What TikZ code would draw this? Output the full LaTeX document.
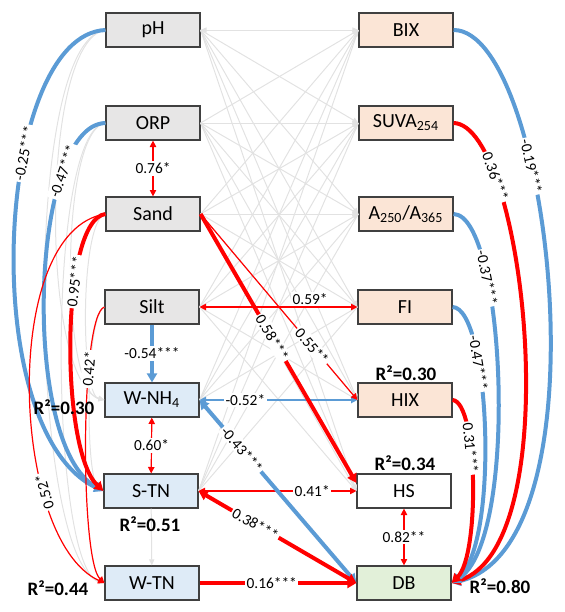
\documentclass[tikz,border=0pt]{standalone}
\usepackage{fontspec}
\setmainfont{Carlito}
\usetikzlibrary{arrows.meta}

\definecolor{soilfill}{HTML}{E7E6E6}
\definecolor{domfill}{HTML}{FBE5D6}
\definecolor{nfill}{HTML}{DEEBF7}
\definecolor{dbfill}{HTML}{E2F0D9}
\definecolor{boxline}{HTML}{404040}
\definecolor{negblue}{HTML}{5B9BD5}
\definecolor{posred}{HTML}{FF0000}
\definecolor{nsgray}{HTML}{E2E2E2}

\begin{document}
\begin{tikzpicture}[x=0.5pt, y=-0.5pt,
  box/.style={draw=boxline, line width=0.6pt, minimum width=47pt, minimum height=17pt,
              inner sep=0pt, font=\fontsize{10}{12}\selectfont},
  soil/.style={box, fill=soilfill},
  dom/.style={box, fill=domfill},
  nitro/.style={box, fill=nfill},
  ns/.style={nsgray, line width=0.5pt, >={Triangle[length=3pt,width=2.6pt]}},
  negthick/.style={negblue, line width=2pt, >={Triangle[length=4.5pt,width=5pt]}},
  posthick/.style={posred, line width=2pt, >={Triangle[length=4.5pt,width=5pt]}},
  negthin/.style={negblue, line width=0.7pt, >={Triangle[length=3.2pt,width=3.2pt]}},
  posthin/.style={posred, line width=0.6pt, >={Triangle[length=3.2pt,width=3.2pt]}},
  coef/.style={fill=white, inner sep=0.8pt, text=black, font=\fontsize{7.7}{9}\selectfont},
  rsq/.style={font=\fontsize{9.5}{11}\bfseries\selectfont, inner sep=0pt}
]
  \useasboundingbox (0,0) rectangle (564,612);

  % soil properties and nitrogen (left)
  \node[soil] (ph) at (153,30) {pH};
  \node[soil] (orp) at (153,123) {ORP};
  \node[soil] (sand) at (153,214) {Sand};
  \node[soil] (silt) at (152,307) {Silt};
  \node[nitro] (wnh) at (152,400) {W-NH\textsubscript{4}};
  \node[nitro] (stn) at (151,491) {S-TN};
  \node[nitro] (wtn) at (152,583) {W-TN};

  % DOM indices, HS and DB (right)
  \node[dom] (bix) at (406,30) {BIX};
  \node[dom] (suva) at (406,123) {SUVA\textsubscript{254}};
  \node[dom] (aa) at (406,214) {A\textsubscript{250}/A\textsubscript{365}};
  \node[dom] (fi) at (405,307) {FI};
  \node[dom] (hix) at (405,400) {HIX};
  \node[box, fill=white] (hs) at (404,491) {HS};
  \node[box, fill=dbfill] (db) at (404,583) {DB};

  % non significant paths
  \foreach \a in {ph,orp,sand,silt}
    \foreach \b in {bix,suva,aa,fi,hix,hs}
      \draw[ns,->] (\a.east) -- (\b.west);
  \foreach \a in {bix,suva,aa,fi}
    \foreach \b in {wnh,stn}
      \draw[ns] (\a.west) -- (\b.east);
  \draw[ns,<-] (ph.east) -- (bix.west);
  \draw[ns,->] (stn) -- (wtn);
  \draw[ns,->] (ph.west) .. controls (40,40) and (40,380) .. (wnh.west);
  \draw[ns,->] (ph.west) .. controls (20,40) and (30,560) .. (wtn.west);
  \draw[ns,->] (orp.west) .. controls (60,130) and (60,390) .. (wnh.west);
  \draw[ns,->] (orp.west) .. controls (45,130) and (50,570) .. (wtn.west);
  \draw[ns,->] (sand.west) .. controls (80,220) and (80,395) .. (wnh.west);
  \draw[ns,->] (silt.west) .. controls (85,315) and (85,480) .. (stn.west);

  % left side curves
  \draw[negthick,->] (ph.west) .. controls (-5,35) and (-25,430) .. (stn.west)
    node[coef, sloped, pos=0.36] {-0.25***};
  \draw[negthick,->] (orp.west) .. controls (30,125) and (20,445) .. (stn.west)
    node[coef, sloped, pos=0.24] {-0.47***};
  \draw[posthick,->] (sand.west) .. controls (60,220) and (60,450) .. (stn.west)
    node[coef, sloped, pos=0.34] {0.95***};
  \draw[posthin,<-] (wtn.west) .. controls (10,540) and (0,230) .. (sand.west)
    node[coef, sloped, allow upside down, pos=0.29] {0.52*};
  \draw[posthin,->] (silt.west) .. controls (80,315) and (80,560) .. (wtn.west)
    node[coef, sloped, pos=0.31] {0.42*};

  % straight paths
  \draw[posthin,<->] (orp) -- node[coef] {0.76*} (sand);
  \draw[negthick,->] (silt) -- node[coef] {-0.54***} (wnh);
  \draw[posthin,<->] (wnh) -- node[coef] {0.60*} (stn);
  \draw[posthin,<->] (hs) -- node[coef] {0.82**} (db);
  \draw[posthin,<->] (silt) -- node[coef, pos=0.7, above] {0.59*} (fi);
  \draw[negthin,<->] (wnh) -- node[coef, pos=0.29] {-0.52*} (hix);
  \draw[posthin,->] (sand.east) -- (hix.west) node[coef, sloped, pos=0.71] {0.55**};
  \draw[posthick,->] (sand.east) -- ([yshift=4pt]hs.west) node[coef, sloped, pos=0.46] {0.58***};
  \draw[posthin,<->] (stn) -- node[coef, pos=0.72] {0.41*} (hs);
  \draw[negthick,<->] (wnh.east) -- (db.west) node[coef, sloped, pos=0.27] {-0.43***};
  \draw[posthick,<->] (stn.east) -- (db.west) node[coef, sloped, pos=0.36] {0.38***};
  \draw[posthick,->] (wtn) -- node[coef, pos=0.46] {0.16***} (db);

  % right side curves into DB
  \draw[negthick,->] (bix.east) .. controls (550,30) and (610,545) .. (db.east)
    node[coef, sloped, pos=0.335] {-0.19***};
  \draw[posthick,->] (suva.east) .. controls (525,125) and (570,545) .. (db.east)
    node[coef, sloped, pos=0.22] {0.36***};
  \draw[negthick,->] (aa.east) .. controls (505,215) and (520,540) .. (db.east)
    node[coef, sloped, pos=0.28] {-0.37***};
  \draw[negthick,->] (fi.east) .. controls (490,308) and (500,545) .. (db.east)
    node[coef, sloped, pos=0.31] {-0.47***};
  \draw[posthick,->] (hix.east) .. controls (478,402) and (480,555) .. (db.east)
    node[coef, sloped, pos=0.36] {0.31***};

  % explained variance
  \node[rsq] (r2hix) at (406,373) {R²=0.30};
  \node[rsq] (r2hs) at (405,463) {R²=0.34};
  \node[rsq] (r2db) at (500,586) {R²=0.80};
  \node[rsq] (r2wnh) at (64,407) {R²=0.30};
  \node[rsq] (r2stn) at (150,524) {R²=0.51};
  \node[rsq] (r2wtn) at (58,588) {R²=0.44};
\end{tikzpicture}
\end{document}
